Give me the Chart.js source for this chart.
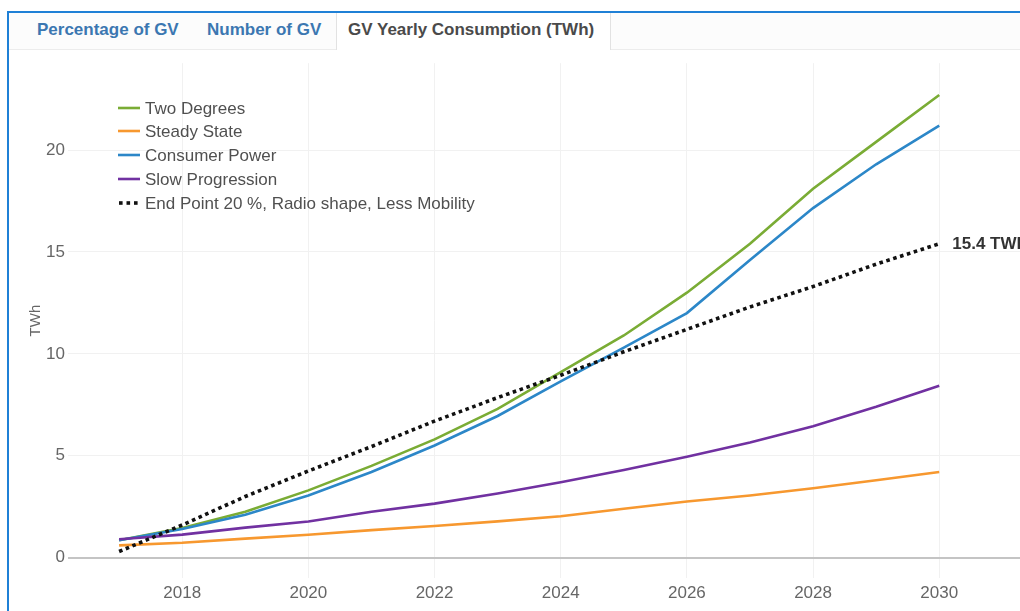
<!DOCTYPE html>
<html>
<head>
<meta charset="utf-8">
<script src="https://cdn.jsdelivr.net/npm/chart.js@4.4.1/dist/chart.umd.min.js"></script>
<style>
  html, body { margin:0; padding:0; background:#fff; width:1020px; height:611px; overflow:hidden; }
  #frameTop { position:absolute; left:7px; top:11px; width:1020px; height:2px; background:#1f80d6; }
  #frameLeft { position:absolute; left:7px; top:11px; width:2px; height:620px; background:#1f80d6; }
  #tabs { position:absolute; left:9px; top:13px; width:1011px; height:36px; border-bottom:1px solid #ececec; background:#fcfcfc;
          font-family:"Liberation Sans", Arial, sans-serif; font-weight:bold; font-size:17px; }
  .tab { position:absolute; top:0; height:36px; line-height:33px; color:#3b77b1; white-space:nowrap; }
  .tab.active { color:#4a4a4a; background:#fff; border-left:1px solid #e2e2e2; border-right:1px solid #e2e2e2; height:37px; padding:0 11px; box-sizing:border-box; }
  #wrap { position:absolute; left:9px; top:50px; width:1011px; height:561px; }
</style>
</head>
<body>
<div id="tabs">
  <div class="tab" style="left:28px">Percentage of GV</div>
  <div class="tab" style="left:198px">Number of GV</div>
  <div class="tab active" style="left:327px;width:275px">GV Yearly Consumption (TWh)</div>
</div>
<div id="frameTop"></div>
<div id="frameLeft"></div>
<div id="wrap"><canvas id="c"></canvas></div>
<script>
const years = [2017,2018,2019,2020,2021,2022,2023,2024,2025,2026,2027,2028,2029,2030];
const twoDegrees    = [0.85,1.45,2.25,3.3,4.5,5.8,7.3,9.1,10.9,13.0,15.4,18.1,20.4,22.7];
const steadyState   = [0.6,0.73,0.93,1.12,1.35,1.55,1.78,2.03,2.4,2.75,3.05,3.4,3.8,4.2];
const consumerPower = [0.85,1.4,2.1,3.05,4.2,5.5,6.95,8.65,10.3,12.0,14.6,17.15,19.3,21.2];
const slowProgression = [0.9,1.13,1.47,1.77,2.25,2.65,3.15,3.7,4.3,4.95,5.65,6.45,7.4,8.43];
const endPoint      = [0.3,1.6,3.0,4.25,5.45,6.7,7.85,8.95,10.1,11.2,12.3,13.3,14.4,15.4];
const seriesNames = ["Two Degrees","Steady State","Consumer Power","Slow Progression","End Point 20 %, Radio shape, Less Mobility"];
const xTicks = [2018,2020,2022,2024,2026,2028,2030];
const yTicks = [0,5,10,15,20];
const endLabel = "15.4 TWh";
const yTitle = "TWh";

const colors = ["#7aac35","#f7982f","#2c87c8","#7131a1","#111111"];
const seriesData = [twoDegrees, steadyState, consumerPower, slowProgression, endPoint];

const datasets = seriesData.map((arr, i) => ({
  label: seriesNames[i],
  data: arr.map((v, j) => ({x: years[j], y: v})),
  borderColor: colors[i],
  backgroundColor: colors[i],
  borderWidth: i === 4 ? 3.6 : 2.6,
  borderDash: i === 4 ? [3.6, 3.6] : [],
  pointRadius: 0,
  tension: 0,
  fill: false
}));
datasets.forEach((d, i) => { d.order = i === 4 ? 0 : 5 - i; });

const FONT = '"Liberation Sans", Arial, sans-serif';

const legendPlugin = {
  id: 'customLegend',
  afterDraw(chart) {
    const ctx = chart.ctx;
    ctx.save();
    const x0 = 109, x1 = 131, tx = 136;
    const rows = [58, 81, 105, 129, 153];
    ctx.font = '17px ' + FONT;
    ctx.textBaseline = 'middle';
    seriesNames.forEach((name, i) => {
      const y = rows[i];
      if (i === 4) {
        ctx.fillStyle = colors[i];
        for (let k = 0; k < 3; k++) ctx.fillRect(x0 + 1 + k * 7.5, y - 1.8, 3.6, 3.6);
      } else {
        ctx.strokeStyle = colors[i];
        ctx.lineWidth = 2.6;
        ctx.beginPath(); ctx.moveTo(x0, y); ctx.lineTo(x1, y); ctx.stroke();
      }
      ctx.fillStyle = '#505050';
      ctx.fillText(name, tx, y + 1);
    });
    ctx.restore();
  }
};

const endLabelPlugin = {
  id: 'endLabel',
  afterDatasetsDraw(chart) {
    const meta = chart.getDatasetMeta(4);
    const pt = meta.data[meta.data.length - 1];
    const ctx = chart.ctx;
    ctx.save();
    ctx.font = 'bold 17px ' + FONT;
    ctx.fillStyle = '#333';
    ctx.textBaseline = 'middle';
    ctx.fillText(endLabel, pt.x + 13, pt.y + 1);
    ctx.restore();
  }
};

new Chart(document.getElementById('c'), {
  type: 'line',
  data: { datasets },
  options: {
    responsive: true,
    maintainAspectRatio: false,
    animation: false,
    layout: { padding: { top: 13, right: 0, bottom: 0, left: 0 } },
    plugins: { legend: { display: false }, tooltip: { enabled: false } },
    scales: {
      x: {
        type: 'linear',
        min: 2016.19,
        max: 2031.28,
        afterBuildTicks: s => { s.ticks = xTicks.map(v => ({value: v})); },
        afterFit: s => { s.height = 33; },
        border: { display: false },
        grid: { color: '#f1f1f1', lineWidth: 1, drawTicks: false },
        ticks: { padding: 5, color: '#666', font: { family: FONT, size: 17 }, callback: v => String(v), maxRotation: 0, autoSkip: false }
      },
      y: {
        min: -1.0,
        max: 24.26,
        afterBuildTicks: s => { s.ticks = yTicks.map(v => ({value: v})); },
        afterFit: s => { s.width = 59; },
        border: { display: false },
        grid: {
          drawTicks: false,
          color: c => c.tick && c.tick.value === 0 ? '#c4c4c4' : '#f1f1f1',
          lineWidth: c => c.tick && c.tick.value === 0 ? 2 : 1
        },
        ticks: { padding: 3, color: '#666', font: { family: FONT, size: 17 } },
        title: { display: true, text: yTitle, color: '#666', font: { family: FONT, size: 15 }, padding: 18 }
      }
    }
  },
  plugins: [legendPlugin, endLabelPlugin]
});
</script>
</body>
</html>
